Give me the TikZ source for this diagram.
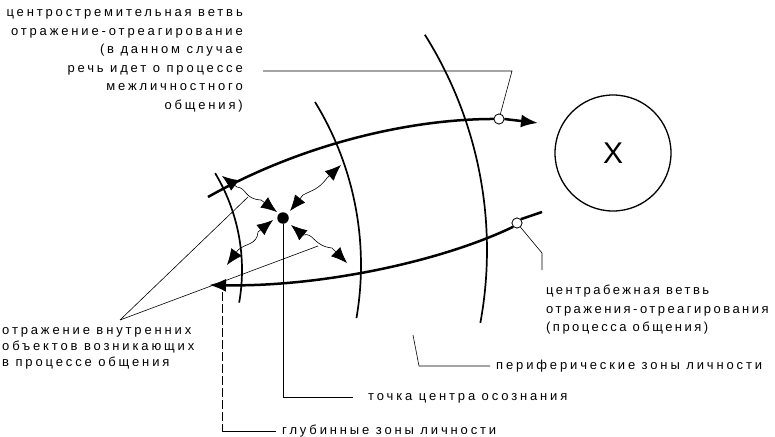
\documentclass[tikz,border=0pt]{standalone}
\usepackage{fontspec}
\setmainfont{Liberation Sans}
\newfontfamily\lblfont[LetterSpace=22]{Liberation Sans}
\usetikzlibrary{arrows.meta,positioning,calc}

\begin{document}
\begin{tikzpicture}[
            x=1pt, y=-1pt,
            font=\lblfont\fontsize{13}{18.5}\selectfont,
            zone/.style={line width=1.7pt},
            branch/.style={line width=2.5pt},
            lead/.style={line width=0.6pt},
            knot/.style={circle, draw, fill=white, line width=0.7pt, inner sep=0pt, minimum size=10pt},
            reflex/.style={line width=0.6pt, {Latex[length=16pt,width=13pt]}-{Latex[length=16pt,width=13pt]}},
            note/.style={inner sep=0pt, align=left},
            tail/.style={-{Latex[length=17pt,width=13pt]}}
        ]
            \useasboundingbox (0,0) rectangle (775,436);

            % zones of the personality
            \draw[zone] ([shift={(54,270)}]-31:188) arc[start angle=-31, end angle=10, radius=188];
            \draw[zone] ([shift={(49,265)}]-31.5:312) arc[start angle=-31.5, end angle=9.8, radius=312];
            \draw[zone] ([shift={(83,250)}]-32.2:404) arc[start angle=-32.2, end angle=10.4, radius=404];

            % object and centre
            \node[circle, draw, line width=1.3pt, minimum size=116pt, font=\fontsize{30}{30}\selectfont] (obj) at (613,153) {X};
            \node[circle, fill, inner sep=0pt, minimum size=11.5pt] (focus) at (283,218) {};

            % branches
            \node[knot] (cpKnot) at (499,119) {};
            \node[knot] (cfKnot) at (517,223) {};
            \coordinate (cpStart) at (208,197);
            \coordinate (cpTip) at (538,123);
            \coordinate (cfStart) at (542,212);
            \coordinate (cfTip) at (209,285);
            \draw[branch] (cpStart) .. controls (300,145) and (410,118) .. (cpKnot.center);
            \draw[branch, tail] (cpKnot.east) -- (cpTip);
            \draw[branch] (cfStart) -- (cfKnot.north east);
            \draw[branch, tail] (cfKnot.south west) .. controls (440,262) and (320,287) .. (cfTip);
            \node[knot] at (cpKnot) {};
            \node[knot] at (cfKnot) {};

            % reflections round the centre
            \draw[reflex] (222,176) -- (237,187) .. controls (247,188) and (244,199) .. (261,200) -- (277,212);
            \draw[reflex] (227,265) -- (238,250) .. controls (246,243) and (257,245) .. (258,232) -- (273,220);
            \draw[reflex] (341,165) -- (327,178) .. controls (318,190) and (312,190) .. (303,195) -- (290,211);
            \draw[reflex] (291,225) -- (303,235) .. controls (314,232) and (313,246) .. (332,248) -- (347,263);

            % texts
            \node[note, align=right, anchor=east] (cpText) at (243,61) {центростремительная ветвь\\отражение-отреагирование\\(в данном случае\\речь идет о процессе\\межличностного\\общения)};
            \node[note, anchor=base west, font=\lblfont\addfontfeature{LetterSpace=19}\fontsize{13}{18.3}\selectfont] (cfText) at (546,331.5) {центрабежная ветвь\\отражения-отреагирования\\(процесса общения)};
            \node[note, anchor=base west, font=\lblfont\fontsize{13}{16}\selectfont] (innerText) at (2,366.5) {отражение внутренних\\объектов возникающих\\в процессе общения};

            \coordinate (cpA) at (263,71);
            \coordinate (cpB) at (512,71);
            \draw[lead] (cpA) -- (cpB) -- (cpKnot);

            \coordinate (cfA) at (542,253);
            \coordinate (cfB) at (542,270);
            \draw[lead] (cfKnot) -- (cfA) -- (cfB);

            \coordinate (innerA) at (120,320);
            \draw[lead] (innerA) -- (248,197);
            \draw[lead] (innerA) -- (318,246);

            \coordinate (periA) at (413,335);
            \coordinate (periB) at (419,366);
            \coordinate (periC) at (490,366);
            \draw[lead] (periA) -- (periB) -- (periC);
            \node[note, anchor=base west] (periText) at ($(periC)+(6,3.5)$) {периферические зоны личности};

            \coordinate (focusA) at (283,397);
            \coordinate (focusB) at (353,397);
            \draw[lead] (focus) -- (focusA) -- (focusB);
            \node[note, anchor=base west] (focusText) at ($(focusB)+(15,3.5)$) {точка центра осознания};

            \coordinate (deepA) at (222,292);
            \coordinate (deepB) at (222,431);
            \coordinate (deepC) at (276,431);
            \draw[lead, dash pattern=on 9pt off 3pt] (deepA) -- (deepB);
            \draw[lead] (deepB) -- (deepC);
            \node[note, anchor=base west] (deepText) at ($(deepC)+(6,3.5)$) {глубинные зоны личности};
        \end{tikzpicture}
\end{document}
